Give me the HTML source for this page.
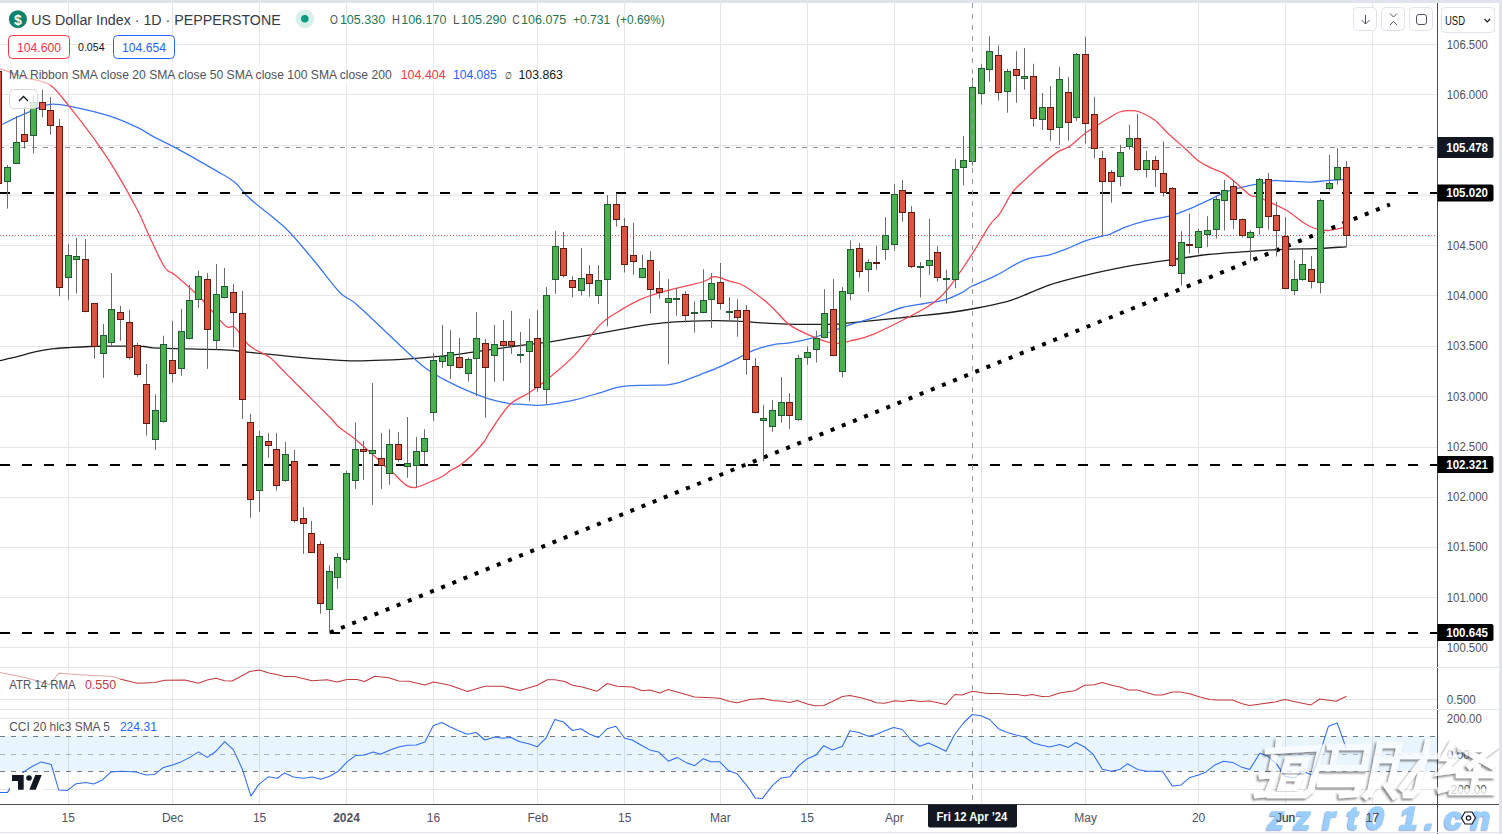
<!DOCTYPE html>
<html><head><meta charset="utf-8"><style>
html,body{margin:0;padding:0;background:#fff;width:1502px;height:834px;overflow:hidden}
svg{display:block}
text{font-family:"Liberation Sans", sans-serif}
</style></head><body>
<svg width="1502" height="834" viewBox="0 0 1502 834" shape-rendering="auto">
<rect x="0" y="0" width="1502" height="834" fill="#ffffff"/>

<line x1="68.5" y1="3" x2="68.5" y2="804" stroke="#e6e6e8" stroke-width="1"/>
<line x1="172.5" y1="3" x2="172.5" y2="804" stroke="#e6e6e8" stroke-width="1"/>
<line x1="259.5" y1="3" x2="259.5" y2="804" stroke="#e6e6e8" stroke-width="1"/>
<line x1="346.5" y1="3" x2="346.5" y2="804" stroke="#e6e6e8" stroke-width="1"/>
<line x1="433.5" y1="3" x2="433.5" y2="804" stroke="#e6e6e8" stroke-width="1"/>
<line x1="537.5" y1="3" x2="537.5" y2="804" stroke="#e6e6e8" stroke-width="1"/>
<line x1="624.5" y1="3" x2="624.5" y2="804" stroke="#e6e6e8" stroke-width="1"/>
<line x1="720.5" y1="3" x2="720.5" y2="804" stroke="#e6e6e8" stroke-width="1"/>
<line x1="807.5" y1="3" x2="807.5" y2="804" stroke="#e6e6e8" stroke-width="1"/>
<line x1="894.5" y1="3" x2="894.5" y2="804" stroke="#e6e6e8" stroke-width="1"/>
<line x1="981.5" y1="3" x2="981.5" y2="804" stroke="#e6e6e8" stroke-width="1"/>
<line x1="1085.5" y1="3" x2="1085.5" y2="804" stroke="#e6e6e8" stroke-width="1"/>
<line x1="1198.5" y1="3" x2="1198.5" y2="804" stroke="#e6e6e8" stroke-width="1"/>
<line x1="1285.5" y1="3" x2="1285.5" y2="804" stroke="#e6e6e8" stroke-width="1"/>
<line x1="1372.5" y1="3" x2="1372.5" y2="804" stroke="#e6e6e8" stroke-width="1"/>
<line x1="0" y1="44.5" x2="1437" y2="44.5" stroke="#e6e6e8" stroke-width="1"/>
<line x1="0" y1="94.5" x2="1437" y2="94.5" stroke="#e6e6e8" stroke-width="1"/>
<line x1="0" y1="145.5" x2="1437" y2="145.5" stroke="#e6e6e8" stroke-width="1"/>
<line x1="0" y1="195.5" x2="1437" y2="195.5" stroke="#e6e6e8" stroke-width="1"/>
<line x1="0" y1="245.5" x2="1437" y2="245.5" stroke="#e6e6e8" stroke-width="1"/>
<line x1="0" y1="295.5" x2="1437" y2="295.5" stroke="#e6e6e8" stroke-width="1"/>
<line x1="0" y1="346.5" x2="1437" y2="346.5" stroke="#e6e6e8" stroke-width="1"/>
<line x1="0" y1="396.5" x2="1437" y2="396.5" stroke="#e6e6e8" stroke-width="1"/>
<line x1="0" y1="447.5" x2="1437" y2="447.5" stroke="#e6e6e8" stroke-width="1"/>
<line x1="0" y1="497.5" x2="1437" y2="497.5" stroke="#e6e6e8" stroke-width="1"/>
<line x1="0" y1="547.5" x2="1437" y2="547.5" stroke="#e6e6e8" stroke-width="1"/>
<line x1="0" y1="597.5" x2="1437" y2="597.5" stroke="#e6e6e8" stroke-width="1"/>
<line x1="0" y1="647.5" x2="1437" y2="647.5" stroke="#e6e6e8" stroke-width="1"/>
<line x1="0" y1="699.5" x2="1437" y2="699.5" stroke="#e6e6e8" stroke-width="1"/>
<line x1="0" y1="718.5" x2="1437" y2="718.5" stroke="#e6e6e8" stroke-width="1"/>
<line x1="0" y1="789.5" x2="1437" y2="789.5" stroke="#e6e6e8" stroke-width="1"/>
<line x1="0" y1="667.5" x2="1499" y2="667.5" stroke="#e0e3eb" stroke-width="1"/>
<line x1="0" y1="709.5" x2="1499" y2="709.5" stroke="#e0e3eb" stroke-width="1"/>
<rect x="0" y="736" width="1437" height="35" fill="#2196f3" fill-opacity="0.1"/>
<line x1="0" y1="736.5" x2="1437" y2="736.5" stroke="#787b86" stroke-opacity="1" stroke-width="1" stroke-dasharray="5 6"/>
<line x1="0" y1="754.5" x2="1437" y2="754.5" stroke="#787b86" stroke-opacity="0.55" stroke-width="1" stroke-dasharray="5 6"/>
<line x1="0" y1="771.5" x2="1437" y2="771.5" stroke="#787b86" stroke-opacity="1" stroke-width="1" stroke-dasharray="5 6"/>
<line x1="0" y1="147.5" x2="1437" y2="147.5" stroke="#8a8d99" stroke-width="1" stroke-dasharray="5 6" stroke-dashoffset="1"/>
<line x1="0" y1="235.5" x2="1437" y2="235.5" stroke="#e0533f" stroke-width="1" stroke-dasharray="1 2"/>
<path d="M0.0,360.6 C3.0,359.9 12.0,357.9 18.0,356.4 C24.0,354.9 30.0,352.9 36.0,351.6 C42.0,350.3 48.0,349.3 54.0,348.6 C60.0,347.9 65.9,347.8 71.9,347.4 C77.9,347.0 83.9,346.7 89.9,346.5 C95.9,346.3 101.9,346.2 107.9,346.2 C113.9,346.1 119.9,346.1 125.9,346.2 C131.9,346.2 138.2,346.2 143.9,346.5 C149.6,346.8 146.5,347.6 160.0,348.2 C173.5,348.8 209.9,349.2 224.9,349.9 C239.9,350.6 237.4,351.1 249.9,352.4 C262.4,353.6 284.0,356.0 299.8,357.4 C315.6,358.8 332.3,360.1 344.8,360.6 C357.3,361.1 363.5,360.7 374.7,360.4 C385.9,360.1 399.7,359.4 412.2,358.6 C424.7,357.8 439.2,356.5 449.6,355.4 C460.0,354.3 462.0,353.6 474.6,351.9 C487.2,350.1 512.5,346.6 525.0,344.9 C537.5,343.2 539.5,343.5 549.9,341.9 C560.3,340.3 574.9,337.6 587.4,335.4 C599.9,333.2 614.4,330.5 624.8,328.7 C635.2,326.9 641.5,325.5 649.8,324.4 C658.1,323.3 664.4,322.5 674.8,321.9 C685.2,321.3 701.8,320.8 712.2,320.7 C722.6,320.6 728.9,320.8 737.2,321.2 C745.5,321.6 753.9,322.4 762.2,322.9 C770.5,323.4 778.8,323.9 787.1,324.2 C795.4,324.4 803.8,324.4 812.1,324.4 C820.4,324.4 830.9,324.4 837.1,324.2 C843.4,323.9 843.3,323.5 849.6,322.9 C855.9,322.3 864.5,321.5 875.0,320.4 C885.5,319.3 899.8,317.8 912.3,316.5 C924.8,315.2 938.8,314.0 950.0,312.5 C961.2,311.0 969.4,309.6 979.8,307.5 C990.2,305.4 1000.6,303.6 1012.3,299.8 C1024.0,296.0 1037.3,289.0 1049.8,284.8 C1062.3,280.6 1074.7,277.8 1087.2,274.8 C1099.7,271.8 1114.3,268.8 1124.7,266.8 C1135.1,264.8 1141.3,264.1 1149.6,262.8 C1157.9,261.6 1164.9,260.7 1174.6,259.3 C1184.3,257.9 1195.7,255.8 1207.6,254.5 C1219.5,253.2 1233.1,252.5 1245.9,251.6 C1258.7,250.7 1272.8,249.8 1284.3,249.3 C1295.8,248.8 1304.8,249.1 1315.0,248.7 C1325.2,248.3 1340.6,247.1 1345.7,246.8" fill="none" stroke="#1e1e1e" stroke-width="1.3" stroke-linejoin="round" stroke-linecap="round"/>
<path d="M0.0,125.4 C4.2,123.5 16.7,117.2 25.0,113.7 C33.3,110.2 41.6,105.5 49.9,104.4 C58.2,103.4 64.9,105.4 74.9,107.4 C84.9,109.4 99.5,112.9 109.9,116.2 C120.3,119.5 129.8,123.9 137.3,127.4 C144.8,130.9 148.6,134.1 154.8,137.4 C161.1,140.7 164.8,142.0 174.8,147.4 C184.8,152.8 204.7,164.1 214.7,169.9 C224.7,175.7 228.9,177.5 234.7,182.3 C240.5,187.1 241.4,191.1 249.7,198.6 C258.0,206.1 274.0,217.1 284.6,227.3 C295.2,237.5 304.3,249.1 313.5,260.0 C322.7,270.9 332.5,285.0 339.8,292.5 C347.1,300.0 347.2,296.2 357.2,304.9 C367.2,313.6 388.4,334.5 399.7,344.9 C410.9,355.3 416.4,361.2 424.7,367.4 C433.0,373.6 439.6,377.3 449.6,382.3 C459.6,387.3 474.6,393.8 484.6,397.3 C494.6,400.9 503.7,402.5 509.6,403.6 C515.5,404.7 515.4,403.8 520.0,404.1 C524.6,404.4 532.5,405.3 537.5,405.3 C542.5,405.3 543.7,405.2 549.9,404.3 C556.1,403.4 566.6,401.7 574.9,399.8 C583.2,397.9 592.4,395.0 599.9,392.8 C607.4,390.6 612.4,388.1 619.9,386.8 C627.4,385.6 636.9,385.6 644.8,385.3 C652.7,385.0 661.5,385.3 667.3,384.8 C673.1,384.3 674.4,384.0 679.8,382.3 C685.2,380.6 693.1,377.4 699.8,374.8 C706.4,372.2 713.1,369.8 719.7,366.9 C726.4,364.0 733.9,360.2 739.7,357.4 C745.5,354.6 748.9,352.1 754.7,349.9 C760.5,347.7 768.9,345.6 774.7,344.4 C780.5,343.2 783.0,344.1 789.6,342.9 C796.2,341.7 804.6,340.4 814.6,337.4 C824.6,334.4 839.5,328.2 849.6,324.9 C859.7,321.6 866.2,320.3 875.0,317.4 C883.8,314.5 894.1,309.8 902.4,307.5 C910.7,305.2 917.8,304.8 924.9,303.5 C932.0,302.2 938.6,301.7 944.9,299.8 C951.1,297.9 957.8,294.6 962.4,292.3 C967.0,290.0 966.5,288.9 972.3,286.0 C978.1,283.1 988.5,279.2 997.3,274.8 C1006.0,270.4 1016.0,263.1 1024.8,259.8 C1033.5,256.5 1042.7,256.7 1049.8,254.8 C1056.9,252.9 1061.4,250.9 1067.2,248.6 C1073.0,246.3 1078.9,243.2 1084.7,241.1 C1090.5,239.0 1098.0,237.2 1102.2,236.1 C1106.4,235.0 1106.0,235.8 1109.7,234.3 C1113.5,232.8 1118.9,229.5 1124.7,227.3 C1130.5,225.1 1137.2,223.0 1144.6,221.1 C1152.0,219.2 1161.9,218.0 1169.2,216.1 C1176.5,214.2 1182.0,212.0 1188.4,209.4 C1194.8,206.8 1201.2,203.6 1207.6,200.7 C1214.0,197.8 1220.3,194.1 1226.7,191.7 C1233.1,189.3 1240.1,187.7 1245.9,186.3 C1251.7,184.9 1256.8,184.4 1261.3,183.5 C1265.8,182.6 1269.0,181.0 1272.8,180.6 C1276.6,180.2 1277.9,180.8 1284.3,181.0 C1290.7,181.2 1304.2,182.2 1311.2,182.1 C1318.2,182.0 1321.2,181.0 1326.5,180.6 C1331.8,180.2 1340.1,179.8 1342.8,179.6" fill="none" stroke="#3a76f0" stroke-width="1.3" stroke-linejoin="round" stroke-linecap="round"/>
<path d="M0.0,68.7 C4.2,70.2 16.7,74.8 25.0,77.5 C33.3,80.2 42.5,80.0 50.0,85.0 C57.5,90.0 62.5,98.2 70.0,107.4 C77.5,116.6 87.4,129.5 94.9,139.9 C102.4,150.3 107.8,158.2 114.9,169.9 C122.0,181.6 131.5,198.6 137.3,209.8 C143.1,221.0 145.2,227.7 149.8,237.3 C154.4,246.9 160.6,261.2 164.8,267.5 C169.0,273.8 169.1,270.0 175.0,275.0 C180.9,280.0 191.7,289.1 200.0,297.5 C208.3,305.9 219.1,320.4 224.9,325.4 C230.7,330.4 230.7,323.9 234.9,327.4 C239.1,330.8 244.1,341.1 249.9,346.1 C255.7,351.1 264.1,353.0 269.9,357.4 C275.7,361.8 279.0,366.6 284.8,372.4 C290.6,378.2 297.3,384.8 304.8,392.3 C312.3,399.8 324.0,411.4 329.8,417.3 C335.6,423.2 335.7,424.3 339.8,427.8 C343.9,431.3 350.4,435.2 354.4,438.4 C358.4,441.6 360.4,443.6 364.0,446.8 C367.6,450.0 372.4,454.3 376.0,457.6 C379.6,460.9 382.6,463.8 385.6,466.5 C388.6,469.2 390.6,470.6 394.0,473.7 C397.4,476.8 402.4,482.8 406.0,485.1 C409.6,487.4 411.3,488.1 415.5,487.5 C419.7,486.9 426.7,483.3 431.1,481.5 C435.5,479.7 438.7,478.5 441.9,476.7 C445.1,474.9 447.3,472.6 450.3,470.7 C453.3,468.8 456.3,467.9 459.9,465.3 C463.5,462.7 467.9,459.1 471.9,455.2 C475.9,451.3 480.9,445.9 483.9,442.0 C486.9,438.1 485.7,438.0 490.0,431.8 C494.3,425.6 502.9,411.4 509.6,404.8 C516.3,398.2 523.3,396.9 530.0,392.3 C536.7,387.7 542.4,383.5 549.9,377.3 C557.4,371.1 566.6,363.6 574.9,354.9 C583.2,346.2 593.2,331.8 599.9,324.9 C606.6,318.0 607.8,318.1 614.9,313.7 C622.0,309.3 633.1,302.6 642.3,298.7 C651.4,294.8 659.8,292.8 669.8,290.0 C679.8,287.2 695.1,284.2 702.2,282.0 C709.3,279.8 709.3,277.8 712.2,277.0 C715.1,276.2 716.8,276.8 719.7,277.5 C722.6,278.2 725.5,279.8 729.7,281.2 C733.9,282.6 738.0,282.2 744.7,286.2 C751.4,290.1 762.2,298.4 769.7,304.9 C777.2,311.3 782.1,319.5 789.6,324.9 C797.1,330.3 807.1,334.3 814.6,337.4 C822.1,340.5 828.8,343.0 834.6,343.6 C840.4,344.2 842.9,342.8 849.6,341.1 C856.3,339.4 862.2,339.2 875.0,333.6 C887.8,328.0 914.6,314.4 926.2,307.5 C937.9,300.6 939.3,298.2 944.9,292.3 C950.5,286.4 954.9,279.4 959.9,272.3 C964.9,265.2 969.8,257.7 974.8,249.8 C979.8,241.9 985.6,230.8 989.8,224.8 C994.0,218.8 996.0,219.0 999.8,213.6 C1003.5,208.2 1008.1,198.0 1012.3,192.4 C1016.5,186.8 1020.2,184.3 1024.8,179.9 C1029.4,175.5 1034.4,170.8 1039.8,166.2 C1045.2,161.6 1052.2,155.7 1057.2,152.4 C1062.2,149.1 1065.1,149.3 1069.7,146.2 C1074.3,143.1 1079.7,137.4 1084.7,133.7 C1089.7,129.9 1095.5,126.4 1099.7,123.7 C1103.9,121.0 1106.4,119.5 1109.7,117.5 C1113.0,115.5 1116.4,113.1 1119.7,112.0 C1123.0,110.9 1126.4,110.7 1129.7,110.7 C1133.0,110.7 1135.6,110.5 1139.7,112.0 C1143.8,113.5 1149.7,116.2 1154.6,120.0 C1159.5,123.8 1164.2,129.8 1169.2,134.5 C1174.2,139.2 1179.7,143.7 1184.5,148.0 C1189.3,152.3 1193.5,157.1 1198.0,160.4 C1202.5,163.8 1207.2,166.0 1211.4,168.1 C1215.6,170.2 1219.1,170.7 1222.9,172.9 C1226.7,175.1 1229.9,177.8 1234.4,181.5 C1238.9,185.2 1246.0,192.4 1249.8,195.0 C1253.6,197.6 1253.6,195.5 1257.4,196.9 C1261.2,198.3 1267.7,201.2 1272.8,203.6 C1277.9,206.0 1283.0,208.1 1288.1,211.3 C1293.2,214.5 1299.0,219.9 1303.5,222.8 C1308.0,225.7 1311.2,227.2 1315.0,228.5 C1318.8,229.8 1323.3,230.3 1326.5,230.5 C1329.7,230.7 1331.5,230.0 1334.2,229.5 C1336.9,229.0 1341.4,227.9 1342.8,227.6" fill="none" stroke="#f24a56" stroke-width="1.3" stroke-linejoin="round" stroke-linecap="round"/>
<rect x="0" y="63" width="566" height="22" fill="#ffffff" fill-opacity="0.55"/>
<rect x="0" y="192" width="0" height="0"/>
<line x1="0" y1="193" x2="1437" y2="193" stroke="#000" stroke-width="2" stroke-dasharray="10 12"/>
<rect x="0" y="464" width="0" height="0"/>
<line x1="0" y1="465" x2="1437" y2="465" stroke="#000" stroke-width="2" stroke-dasharray="10 12"/>
<rect x="0" y="632" width="0" height="0"/>
<line x1="0" y1="633" x2="1437" y2="633" stroke="#000" stroke-width="2" stroke-dasharray="10 12"/>
<line x1="330" y1="632.5" x2="1390" y2="204.5" stroke="#000" stroke-width="4" stroke-dasharray="4 8"/>
<line x1="-1.5" y1="71.0" x2="-1.5" y2="184.0" stroke="#6b6b6b" stroke-width="1"/>
<rect x="-4.5" y="71.5" width="6" height="112" fill="#d95541" stroke="#5e1a10" stroke-width="1"/>
<line x1="7.5" y1="165.0" x2="7.5" y2="208.6" stroke="#6b6b6b" stroke-width="1"/>
<rect x="4.5" y="167.5" width="6" height="14" fill="#4caf50" stroke="#1f5a32" stroke-width="1"/>
<line x1="16.5" y1="116.0" x2="16.5" y2="163.5" stroke="#6b6b6b" stroke-width="1"/>
<rect x="13.5" y="142.5" width="6" height="21" fill="#4caf50" stroke="#1f5a32" stroke-width="1"/>
<line x1="24.5" y1="106.0" x2="24.5" y2="148.6" stroke="#6b6b6b" stroke-width="1"/>
<rect x="21.5" y="134.5" width="6" height="7" fill="#d95541" stroke="#5e1a10" stroke-width="1"/>
<line x1="33.5" y1="95.0" x2="33.5" y2="153.5" stroke="#6b6b6b" stroke-width="1"/>
<rect x="30.5" y="102.5" width="6" height="33" fill="#4caf50" stroke="#1f5a32" stroke-width="1"/>
<line x1="42.5" y1="89.7" x2="42.5" y2="117.5" stroke="#6b6b6b" stroke-width="1"/>
<rect x="39.5" y="102.5" width="6" height="7" fill="#d95541" stroke="#5e1a10" stroke-width="1"/>
<line x1="50.5" y1="97.0" x2="50.5" y2="134.8" stroke="#6b6b6b" stroke-width="1"/>
<rect x="47.5" y="110.5" width="6" height="15" fill="#d95541" stroke="#5e1a10" stroke-width="1"/>
<line x1="59.5" y1="119.0" x2="59.5" y2="296.3" stroke="#6b6b6b" stroke-width="1"/>
<rect x="56.5" y="126.5" width="6" height="161" fill="#d95541" stroke="#5e1a10" stroke-width="1"/>
<line x1="68.5" y1="244.0" x2="68.5" y2="299.5" stroke="#6b6b6b" stroke-width="1"/>
<rect x="65.5" y="255.5" width="6" height="22" fill="#4caf50" stroke="#1f5a32" stroke-width="1"/>
<line x1="76.5" y1="238.0" x2="76.5" y2="293.5" stroke="#6b6b6b" stroke-width="1"/>
<rect x="73.5" y="256.5" width="6" height="3" fill="#4caf50" stroke="#1f5a32" stroke-width="1"/>
<line x1="85.5" y1="239.0" x2="85.5" y2="312.3" stroke="#6b6b6b" stroke-width="1"/>
<rect x="82.5" y="259.5" width="6" height="52" fill="#d95541" stroke="#5e1a10" stroke-width="1"/>
<line x1="94.5" y1="303.3" x2="94.5" y2="358.8" stroke="#6b6b6b" stroke-width="1"/>
<rect x="91.5" y="303.5" width="6" height="43" fill="#d95541" stroke="#5e1a10" stroke-width="1"/>
<line x1="103.5" y1="323.9" x2="103.5" y2="377.8" stroke="#6b6b6b" stroke-width="1"/>
<rect x="100.5" y="335.5" width="6" height="18" fill="#4caf50" stroke="#1f5a32" stroke-width="1"/>
<line x1="111.5" y1="273.0" x2="111.5" y2="345.8" stroke="#6b6b6b" stroke-width="1"/>
<rect x="108.5" y="309.5" width="6" height="33" fill="#4caf50" stroke="#1f5a32" stroke-width="1"/>
<line x1="120.5" y1="305.9" x2="120.5" y2="340.8" stroke="#6b6b6b" stroke-width="1"/>
<rect x="117.5" y="312.5" width="6" height="7" fill="#d95541" stroke="#5e1a10" stroke-width="1"/>
<line x1="129.5" y1="309.9" x2="129.5" y2="359.4" stroke="#6b6b6b" stroke-width="1"/>
<rect x="126.5" y="322.5" width="6" height="35" fill="#d95541" stroke="#5e1a10" stroke-width="1"/>
<line x1="137.5" y1="342.8" x2="137.5" y2="376.8" stroke="#6b6b6b" stroke-width="1"/>
<rect x="134.5" y="345.5" width="6" height="29" fill="#d95541" stroke="#5e1a10" stroke-width="1"/>
<line x1="146.5" y1="364.0" x2="146.5" y2="435.5" stroke="#6b6b6b" stroke-width="1"/>
<rect x="143.5" y="384.5" width="6" height="39" fill="#d95541" stroke="#5e1a10" stroke-width="1"/>
<line x1="155.5" y1="394.4" x2="155.5" y2="449.9" stroke="#6b6b6b" stroke-width="1"/>
<rect x="152.5" y="410.5" width="6" height="29" fill="#4caf50" stroke="#1f5a32" stroke-width="1"/>
<line x1="163.5" y1="335.8" x2="163.5" y2="422.5" stroke="#6b6b6b" stroke-width="1"/>
<rect x="160.5" y="344.5" width="6" height="77" fill="#4caf50" stroke="#1f5a32" stroke-width="1"/>
<line x1="172.5" y1="320.9" x2="172.5" y2="382.6" stroke="#6b6b6b" stroke-width="1"/>
<rect x="169.5" y="360.5" width="6" height="13" fill="#d95541" stroke="#5e1a10" stroke-width="1"/>
<line x1="181.5" y1="308.9" x2="181.5" y2="375.8" stroke="#6b6b6b" stroke-width="1"/>
<rect x="178.5" y="331.5" width="6" height="37" fill="#4caf50" stroke="#1f5a32" stroke-width="1"/>
<line x1="189.5" y1="284.9" x2="189.5" y2="339.4" stroke="#6b6b6b" stroke-width="1"/>
<rect x="186.5" y="300.5" width="6" height="38" fill="#4caf50" stroke="#1f5a32" stroke-width="1"/>
<line x1="198.5" y1="270.9" x2="198.5" y2="307.9" stroke="#6b6b6b" stroke-width="1"/>
<rect x="195.5" y="276.5" width="6" height="23" fill="#4caf50" stroke="#1f5a32" stroke-width="1"/>
<line x1="207.5" y1="272.9" x2="207.5" y2="368.8" stroke="#6b6b6b" stroke-width="1"/>
<rect x="204.5" y="279.5" width="6" height="50" fill="#d95541" stroke="#5e1a10" stroke-width="1"/>
<line x1="216.5" y1="264.0" x2="216.5" y2="349.4" stroke="#6b6b6b" stroke-width="1"/>
<rect x="213.5" y="294.5" width="6" height="46" fill="#4caf50" stroke="#1f5a32" stroke-width="1"/>
<line x1="224.5" y1="268.0" x2="224.5" y2="298.3" stroke="#6b6b6b" stroke-width="1"/>
<rect x="221.5" y="286.5" width="6" height="11" fill="#4caf50" stroke="#1f5a32" stroke-width="1"/>
<line x1="233.5" y1="283.9" x2="233.5" y2="347.4" stroke="#6b6b6b" stroke-width="1"/>
<rect x="230.5" y="292.5" width="6" height="20" fill="#d95541" stroke="#5e1a10" stroke-width="1"/>
<line x1="242.5" y1="290.9" x2="242.5" y2="418.9" stroke="#6b6b6b" stroke-width="1"/>
<rect x="239.5" y="313.5" width="6" height="86" fill="#d95541" stroke="#5e1a10" stroke-width="1"/>
<line x1="250.5" y1="413.9" x2="250.5" y2="517.9" stroke="#6b6b6b" stroke-width="1"/>
<rect x="247.5" y="422.5" width="6" height="77" fill="#d95541" stroke="#5e1a10" stroke-width="1"/>
<line x1="259.5" y1="430.9" x2="259.5" y2="511.7" stroke="#6b6b6b" stroke-width="1"/>
<rect x="256.5" y="436.5" width="6" height="54" fill="#4caf50" stroke="#1f5a32" stroke-width="1"/>
<line x1="268.5" y1="432.9" x2="268.5" y2="457.9" stroke="#6b6b6b" stroke-width="1"/>
<rect x="265.5" y="441.5" width="6" height="4" fill="#d95541" stroke="#5e1a10" stroke-width="1"/>
<line x1="276.5" y1="432.9" x2="276.5" y2="490.8" stroke="#6b6b6b" stroke-width="1"/>
<rect x="273.5" y="449.5" width="6" height="36" fill="#d95541" stroke="#5e1a10" stroke-width="1"/>
<line x1="285.5" y1="441.9" x2="285.5" y2="481.8" stroke="#6b6b6b" stroke-width="1"/>
<rect x="282.5" y="454.5" width="6" height="26" fill="#4caf50" stroke="#1f5a32" stroke-width="1"/>
<line x1="294.5" y1="449.9" x2="294.5" y2="522.8" stroke="#6b6b6b" stroke-width="1"/>
<rect x="291.5" y="461.5" width="6" height="59" fill="#d95541" stroke="#5e1a10" stroke-width="1"/>
<line x1="303.5" y1="507.1" x2="303.5" y2="553.8" stroke="#6b6b6b" stroke-width="1"/>
<rect x="300.5" y="518.5" width="6" height="5" fill="#d95541" stroke="#5e1a10" stroke-width="1"/>
<line x1="311.5" y1="520.9" x2="311.5" y2="553.0" stroke="#6b6b6b" stroke-width="1"/>
<rect x="308.5" y="533.5" width="6" height="19" fill="#d95541" stroke="#5e1a10" stroke-width="1"/>
<line x1="320.5" y1="541.3" x2="320.5" y2="613.7" stroke="#6b6b6b" stroke-width="1"/>
<rect x="317.5" y="544.5" width="6" height="59" fill="#d95541" stroke="#5e1a10" stroke-width="1"/>
<line x1="329.5" y1="565.2" x2="329.5" y2="633.0" stroke="#6b6b6b" stroke-width="1"/>
<rect x="326.5" y="571.5" width="6" height="38" fill="#4caf50" stroke="#1f5a32" stroke-width="1"/>
<line x1="337.5" y1="553.0" x2="337.5" y2="588.6" stroke="#6b6b6b" stroke-width="1"/>
<rect x="334.5" y="557.5" width="6" height="20" fill="#4caf50" stroke="#1f5a32" stroke-width="1"/>
<line x1="346.5" y1="470.8" x2="346.5" y2="562.8" stroke="#6b6b6b" stroke-width="1"/>
<rect x="343.5" y="473.5" width="6" height="86" fill="#4caf50" stroke="#1f5a32" stroke-width="1"/>
<line x1="355.5" y1="422.3" x2="355.5" y2="488.8" stroke="#6b6b6b" stroke-width="1"/>
<rect x="352.5" y="449.5" width="6" height="31" fill="#4caf50" stroke="#1f5a32" stroke-width="1"/>
<line x1="363.5" y1="440.9" x2="363.5" y2="479.8" stroke="#6b6b6b" stroke-width="1"/>
<rect x="360.5" y="449.5" width="6" height="2" fill="#d95541" stroke="#5e1a10" stroke-width="1"/>
<line x1="372.5" y1="383.0" x2="372.5" y2="504.8" stroke="#6b6b6b" stroke-width="1"/>
<rect x="369.5" y="450.5" width="6" height="3" fill="#4caf50" stroke="#1f5a32" stroke-width="1"/>
<line x1="381.5" y1="432.9" x2="381.5" y2="488.8" stroke="#6b6b6b" stroke-width="1"/>
<rect x="378.5" y="458.5" width="6" height="7" fill="#d95541" stroke="#5e1a10" stroke-width="1"/>
<line x1="389.5" y1="429.2" x2="389.5" y2="484.7" stroke="#6b6b6b" stroke-width="1"/>
<rect x="386.5" y="444.5" width="6" height="29" fill="#4caf50" stroke="#1f5a32" stroke-width="1"/>
<line x1="398.5" y1="432.1" x2="398.5" y2="461.8" stroke="#6b6b6b" stroke-width="1"/>
<rect x="395.5" y="444.5" width="6" height="15" fill="#d95541" stroke="#5e1a10" stroke-width="1"/>
<line x1="407.5" y1="417.0" x2="407.5" y2="477.8" stroke="#6b6b6b" stroke-width="1"/>
<rect x="404.5" y="463.5" width="6" height="3" fill="#4caf50" stroke="#1f5a32" stroke-width="1"/>
<line x1="416.5" y1="437.0" x2="416.5" y2="487.2" stroke="#6b6b6b" stroke-width="1"/>
<rect x="413.5" y="451.5" width="6" height="14" fill="#4caf50" stroke="#1f5a32" stroke-width="1"/>
<line x1="424.5" y1="429.2" x2="424.5" y2="464.5" stroke="#6b6b6b" stroke-width="1"/>
<rect x="421.5" y="438.5" width="6" height="13" fill="#4caf50" stroke="#1f5a32" stroke-width="1"/>
<line x1="433.5" y1="352.9" x2="433.5" y2="420.8" stroke="#6b6b6b" stroke-width="1"/>
<rect x="430.5" y="360.5" width="6" height="52" fill="#4caf50" stroke="#1f5a32" stroke-width="1"/>
<line x1="442.5" y1="325.0" x2="442.5" y2="367.9" stroke="#6b6b6b" stroke-width="1"/>
<rect x="439.5" y="356.5" width="6" height="5" fill="#4caf50" stroke="#1f5a32" stroke-width="1"/>
<line x1="450.5" y1="330.0" x2="450.5" y2="378.9" stroke="#6b6b6b" stroke-width="1"/>
<rect x="447.5" y="352.5" width="6" height="13" fill="#4caf50" stroke="#1f5a32" stroke-width="1"/>
<line x1="459.5" y1="337.9" x2="459.5" y2="368.5" stroke="#6b6b6b" stroke-width="1"/>
<rect x="456.5" y="357.5" width="6" height="10" fill="#d95541" stroke="#5e1a10" stroke-width="1"/>
<line x1="468.5" y1="357.3" x2="468.5" y2="381.5" stroke="#6b6b6b" stroke-width="1"/>
<rect x="465.5" y="359.5" width="6" height="14" fill="#4caf50" stroke="#1f5a32" stroke-width="1"/>
<line x1="476.5" y1="312.0" x2="476.5" y2="395.9" stroke="#6b6b6b" stroke-width="1"/>
<rect x="473.5" y="338.5" width="6" height="20" fill="#4caf50" stroke="#1f5a32" stroke-width="1"/>
<line x1="485.5" y1="338.9" x2="485.5" y2="417.8" stroke="#6b6b6b" stroke-width="1"/>
<rect x="482.5" y="343.5" width="6" height="24" fill="#d95541" stroke="#5e1a10" stroke-width="1"/>
<line x1="494.5" y1="325.0" x2="494.5" y2="381.9" stroke="#6b6b6b" stroke-width="1"/>
<rect x="491.5" y="344.5" width="6" height="11" fill="#4caf50" stroke="#1f5a32" stroke-width="1"/>
<line x1="503.5" y1="320.0" x2="503.5" y2="380.9" stroke="#6b6b6b" stroke-width="1"/>
<rect x="500.5" y="341.5" width="6" height="4" fill="#d95541" stroke="#5e1a10" stroke-width="1"/>
<line x1="511.5" y1="311.0" x2="511.5" y2="353.9" stroke="#6b6b6b" stroke-width="1"/>
<rect x="508.5" y="341.5" width="6" height="4" fill="#d95541" stroke="#5e1a10" stroke-width="1"/>
<line x1="520.5" y1="332.0" x2="520.5" y2="362.9" stroke="#6b6b6b" stroke-width="1"/>
<rect x="517.5" y="354.5" width="6" height="1" fill="#4caf50" stroke="#1f5a32" stroke-width="1"/>
<line x1="529.5" y1="319.0" x2="529.5" y2="400.9" stroke="#6b6b6b" stroke-width="1"/>
<rect x="526.5" y="341.5" width="6" height="10" fill="#4caf50" stroke="#1f5a32" stroke-width="1"/>
<line x1="537.5" y1="310.0" x2="537.5" y2="391.9" stroke="#6b6b6b" stroke-width="1"/>
<rect x="534.5" y="338.5" width="6" height="49" fill="#d95541" stroke="#5e1a10" stroke-width="1"/>
<line x1="546.5" y1="287.2" x2="546.5" y2="404.3" stroke="#6b6b6b" stroke-width="1"/>
<rect x="543.5" y="295.5" width="6" height="94" fill="#4caf50" stroke="#1f5a32" stroke-width="1"/>
<line x1="555.5" y1="230.8" x2="555.5" y2="293.8" stroke="#6b6b6b" stroke-width="1"/>
<rect x="552.5" y="246.5" width="6" height="33" fill="#4caf50" stroke="#1f5a32" stroke-width="1"/>
<line x1="563.5" y1="232.0" x2="563.5" y2="277.5" stroke="#6b6b6b" stroke-width="1"/>
<rect x="560.5" y="248.5" width="6" height="27" fill="#d95541" stroke="#5e1a10" stroke-width="1"/>
<line x1="572.5" y1="276.2" x2="572.5" y2="297.5" stroke="#6b6b6b" stroke-width="1"/>
<rect x="569.5" y="280.5" width="6" height="7" fill="#d95541" stroke="#5e1a10" stroke-width="1"/>
<line x1="581.5" y1="248.0" x2="581.5" y2="295.5" stroke="#6b6b6b" stroke-width="1"/>
<rect x="578.5" y="278.5" width="6" height="12" fill="#4caf50" stroke="#1f5a32" stroke-width="1"/>
<line x1="589.5" y1="265.0" x2="589.5" y2="296.7" stroke="#6b6b6b" stroke-width="1"/>
<rect x="586.5" y="274.5" width="6" height="9" fill="#d95541" stroke="#5e1a10" stroke-width="1"/>
<line x1="598.5" y1="265.0" x2="598.5" y2="303.7" stroke="#6b6b6b" stroke-width="1"/>
<rect x="595.5" y="280.5" width="6" height="15" fill="#4caf50" stroke="#1f5a32" stroke-width="1"/>
<line x1="607.5" y1="195.0" x2="607.5" y2="326.4" stroke="#6b6b6b" stroke-width="1"/>
<rect x="604.5" y="204.5" width="6" height="75" fill="#4caf50" stroke="#1f5a32" stroke-width="1"/>
<line x1="616.5" y1="193.3" x2="616.5" y2="226.7" stroke="#6b6b6b" stroke-width="1"/>
<rect x="613.5" y="204.5" width="6" height="15" fill="#d95541" stroke="#5e1a10" stroke-width="1"/>
<line x1="624.5" y1="218.0" x2="624.5" y2="272.5" stroke="#6b6b6b" stroke-width="1"/>
<rect x="621.5" y="226.5" width="6" height="38" fill="#d95541" stroke="#5e1a10" stroke-width="1"/>
<line x1="633.5" y1="223.0" x2="633.5" y2="274.7" stroke="#6b6b6b" stroke-width="1"/>
<rect x="630.5" y="255.5" width="6" height="6" fill="#d95541" stroke="#5e1a10" stroke-width="1"/>
<line x1="642.5" y1="255.0" x2="642.5" y2="278.3" stroke="#6b6b6b" stroke-width="1"/>
<rect x="639.5" y="268.5" width="6" height="9" fill="#4caf50" stroke="#1f5a32" stroke-width="1"/>
<line x1="650.5" y1="251.3" x2="650.5" y2="313.3" stroke="#6b6b6b" stroke-width="1"/>
<rect x="647.5" y="260.5" width="6" height="29" fill="#d95541" stroke="#5e1a10" stroke-width="1"/>
<line x1="659.5" y1="271.2" x2="659.5" y2="298.7" stroke="#6b6b6b" stroke-width="1"/>
<rect x="656.5" y="288.5" width="6" height="4" fill="#d95541" stroke="#5e1a10" stroke-width="1"/>
<line x1="668.5" y1="279.2" x2="668.5" y2="364.4" stroke="#6b6b6b" stroke-width="1"/>
<rect x="665.5" y="298.5" width="6" height="4" fill="#4caf50" stroke="#1f5a32" stroke-width="1"/>
<line x1="676.5" y1="287.5" x2="676.5" y2="315.7" stroke="#6b6b6b" stroke-width="1"/>
<rect x="673.5" y="298.5" width="6" height="1" fill="#4caf50" stroke="#1f5a32" stroke-width="1"/>
<line x1="685.5" y1="291.3" x2="685.5" y2="322.5" stroke="#6b6b6b" stroke-width="1"/>
<rect x="682.5" y="294.5" width="6" height="21" fill="#d95541" stroke="#5e1a10" stroke-width="1"/>
<line x1="694.5" y1="301.2" x2="694.5" y2="332.5" stroke="#6b6b6b" stroke-width="1"/>
<rect x="691.5" y="312.5" width="6" height="1" fill="#4caf50" stroke="#1f5a32" stroke-width="1"/>
<line x1="703.5" y1="269.2" x2="703.5" y2="313.3" stroke="#6b6b6b" stroke-width="1"/>
<rect x="700.5" y="300.5" width="6" height="12" fill="#4caf50" stroke="#1f5a32" stroke-width="1"/>
<line x1="711.5" y1="273.0" x2="711.5" y2="328.0" stroke="#6b6b6b" stroke-width="1"/>
<rect x="708.5" y="283.5" width="6" height="16" fill="#4caf50" stroke="#1f5a32" stroke-width="1"/>
<line x1="720.5" y1="263.0" x2="720.5" y2="309.7" stroke="#6b6b6b" stroke-width="1"/>
<rect x="717.5" y="282.5" width="6" height="21" fill="#d95541" stroke="#5e1a10" stroke-width="1"/>
<line x1="729.5" y1="297.1" x2="729.5" y2="320.8" stroke="#6b6b6b" stroke-width="1"/>
<rect x="726.5" y="311.5" width="6" height="1" fill="#4caf50" stroke="#1f5a32" stroke-width="1"/>
<line x1="737.5" y1="299.2" x2="737.5" y2="336.7" stroke="#6b6b6b" stroke-width="1"/>
<rect x="734.5" y="310.5" width="6" height="7" fill="#d95541" stroke="#5e1a10" stroke-width="1"/>
<line x1="746.5" y1="305.2" x2="746.5" y2="374.7" stroke="#6b6b6b" stroke-width="1"/>
<rect x="743.5" y="310.5" width="6" height="49" fill="#d95541" stroke="#5e1a10" stroke-width="1"/>
<line x1="755.5" y1="358.0" x2="755.5" y2="413.3" stroke="#6b6b6b" stroke-width="1"/>
<rect x="752.5" y="366.5" width="6" height="46" fill="#d95541" stroke="#5e1a10" stroke-width="1"/>
<line x1="763.5" y1="404.9" x2="763.5" y2="461.5" stroke="#6b6b6b" stroke-width="1"/>
<rect x="760.5" y="418.5" width="6" height="2" fill="#4caf50" stroke="#1f5a32" stroke-width="1"/>
<line x1="772.5" y1="400.0" x2="772.5" y2="431.7" stroke="#6b6b6b" stroke-width="1"/>
<rect x="769.5" y="410.5" width="6" height="16" fill="#4caf50" stroke="#1f5a32" stroke-width="1"/>
<line x1="781.5" y1="377.0" x2="781.5" y2="422.8" stroke="#6b6b6b" stroke-width="1"/>
<rect x="778.5" y="402.5" width="6" height="13" fill="#4caf50" stroke="#1f5a32" stroke-width="1"/>
<line x1="789.5" y1="393.0" x2="789.5" y2="428.9" stroke="#6b6b6b" stroke-width="1"/>
<rect x="786.5" y="402.5" width="6" height="13" fill="#d95541" stroke="#5e1a10" stroke-width="1"/>
<line x1="798.5" y1="355.0" x2="798.5" y2="420.8" stroke="#6b6b6b" stroke-width="1"/>
<rect x="795.5" y="358.5" width="6" height="61" fill="#4caf50" stroke="#1f5a32" stroke-width="1"/>
<line x1="807.5" y1="346.3" x2="807.5" y2="364.7" stroke="#6b6b6b" stroke-width="1"/>
<rect x="804.5" y="352.5" width="6" height="5" fill="#4caf50" stroke="#1f5a32" stroke-width="1"/>
<line x1="816.5" y1="330.8" x2="816.5" y2="362.5" stroke="#6b6b6b" stroke-width="1"/>
<rect x="813.5" y="338.5" width="6" height="11" fill="#4caf50" stroke="#1f5a32" stroke-width="1"/>
<line x1="824.5" y1="289.2" x2="824.5" y2="338.3" stroke="#6b6b6b" stroke-width="1"/>
<rect x="821.5" y="313.5" width="6" height="24" fill="#4caf50" stroke="#1f5a32" stroke-width="1"/>
<line x1="833.5" y1="279.1" x2="833.5" y2="356.3" stroke="#6b6b6b" stroke-width="1"/>
<rect x="830.5" y="309.5" width="6" height="46" fill="#d95541" stroke="#5e1a10" stroke-width="1"/>
<line x1="842.5" y1="287.2" x2="842.5" y2="377.5" stroke="#6b6b6b" stroke-width="1"/>
<rect x="839.5" y="291.5" width="6" height="80" fill="#4caf50" stroke="#1f5a32" stroke-width="1"/>
<line x1="850.5" y1="240.4" x2="850.5" y2="300.3" stroke="#6b6b6b" stroke-width="1"/>
<rect x="847.5" y="249.5" width="6" height="44" fill="#4caf50" stroke="#1f5a32" stroke-width="1"/>
<line x1="859.5" y1="243.0" x2="859.5" y2="277.4" stroke="#6b6b6b" stroke-width="1"/>
<rect x="856.5" y="248.5" width="6" height="23" fill="#d95541" stroke="#5e1a10" stroke-width="1"/>
<line x1="868.5" y1="259.1" x2="868.5" y2="291.7" stroke="#6b6b6b" stroke-width="1"/>
<rect x="865.5" y="262.5" width="6" height="7" fill="#4caf50" stroke="#1f5a32" stroke-width="1"/>
<line x1="876.5" y1="245.9" x2="876.5" y2="269.9" stroke="#6b6b6b" stroke-width="1"/>
<rect x="873.5" y="262.5" width="6" height="1" fill="#d95541" stroke="#5e1a10" stroke-width="1"/>
<line x1="885.5" y1="217.0" x2="885.5" y2="259.8" stroke="#6b6b6b" stroke-width="1"/>
<rect x="882.5" y="235.5" width="6" height="14" fill="#4caf50" stroke="#1f5a32" stroke-width="1"/>
<line x1="894.5" y1="184.3" x2="894.5" y2="250.5" stroke="#6b6b6b" stroke-width="1"/>
<rect x="891.5" y="194.5" width="6" height="50" fill="#4caf50" stroke="#1f5a32" stroke-width="1"/>
<line x1="902.5" y1="180.0" x2="902.5" y2="221.7" stroke="#6b6b6b" stroke-width="1"/>
<rect x="899.5" y="190.5" width="6" height="22" fill="#d95541" stroke="#5e1a10" stroke-width="1"/>
<line x1="911.5" y1="206.0" x2="911.5" y2="268.2" stroke="#6b6b6b" stroke-width="1"/>
<rect x="908.5" y="212.5" width="6" height="54" fill="#d95541" stroke="#5e1a10" stroke-width="1"/>
<line x1="920.5" y1="262.0" x2="920.5" y2="297.5" stroke="#6b6b6b" stroke-width="1"/>
<rect x="917.5" y="266.5" width="6" height="1" fill="#4caf50" stroke="#1f5a32" stroke-width="1"/>
<line x1="929.5" y1="219.0" x2="929.5" y2="274.9" stroke="#6b6b6b" stroke-width="1"/>
<rect x="926.5" y="260.5" width="6" height="5" fill="#4caf50" stroke="#1f5a32" stroke-width="1"/>
<line x1="937.5" y1="246.3" x2="937.5" y2="281.6" stroke="#6b6b6b" stroke-width="1"/>
<rect x="934.5" y="252.5" width="6" height="25" fill="#d95541" stroke="#5e1a10" stroke-width="1"/>
<line x1="946.5" y1="269.8" x2="946.5" y2="303.4" stroke="#6b6b6b" stroke-width="1"/>
<rect x="943.5" y="278.5" width="6" height="1" fill="#4caf50" stroke="#1f5a32" stroke-width="1"/>
<line x1="955.5" y1="159.1" x2="955.5" y2="288.3" stroke="#6b6b6b" stroke-width="1"/>
<rect x="952.5" y="169.5" width="6" height="110" fill="#4caf50" stroke="#1f5a32" stroke-width="1"/>
<line x1="963.5" y1="136.0" x2="963.5" y2="185.4" stroke="#6b6b6b" stroke-width="1"/>
<rect x="960.5" y="160.5" width="6" height="7" fill="#4caf50" stroke="#1f5a32" stroke-width="1"/>
<line x1="972.5" y1="77.6" x2="972.5" y2="165.7" stroke="#6b6b6b" stroke-width="1"/>
<rect x="969.5" y="87.5" width="6" height="74" fill="#4caf50" stroke="#1f5a32" stroke-width="1"/>
<line x1="981.5" y1="64.2" x2="981.5" y2="104.6" stroke="#6b6b6b" stroke-width="1"/>
<rect x="978.5" y="68.5" width="6" height="25" fill="#4caf50" stroke="#1f5a32" stroke-width="1"/>
<line x1="989.5" y1="36.3" x2="989.5" y2="81.8" stroke="#6b6b6b" stroke-width="1"/>
<rect x="986.5" y="51.5" width="6" height="18" fill="#4caf50" stroke="#1f5a32" stroke-width="1"/>
<line x1="998.5" y1="45.3" x2="998.5" y2="100.5" stroke="#6b6b6b" stroke-width="1"/>
<rect x="995.5" y="55.5" width="6" height="37" fill="#d95541" stroke="#5e1a10" stroke-width="1"/>
<line x1="1007.5" y1="68.7" x2="1007.5" y2="112.7" stroke="#6b6b6b" stroke-width="1"/>
<rect x="1004.5" y="71.5" width="6" height="20" fill="#4caf50" stroke="#1f5a32" stroke-width="1"/>
<line x1="1016.5" y1="51.2" x2="1016.5" y2="102.8" stroke="#6b6b6b" stroke-width="1"/>
<rect x="1013.5" y="69.5" width="6" height="6" fill="#d95541" stroke="#5e1a10" stroke-width="1"/>
<line x1="1024.5" y1="48.0" x2="1024.5" y2="89.7" stroke="#6b6b6b" stroke-width="1"/>
<rect x="1021.5" y="76.5" width="6" height="2" fill="#4caf50" stroke="#1f5a32" stroke-width="1"/>
<line x1="1033.5" y1="63.8" x2="1033.5" y2="126.7" stroke="#6b6b6b" stroke-width="1"/>
<rect x="1030.5" y="76.5" width="6" height="42" fill="#d95541" stroke="#5e1a10" stroke-width="1"/>
<line x1="1042.5" y1="92.9" x2="1042.5" y2="129.8" stroke="#6b6b6b" stroke-width="1"/>
<rect x="1039.5" y="107.5" width="6" height="12" fill="#4caf50" stroke="#1f5a32" stroke-width="1"/>
<line x1="1050.5" y1="86.1" x2="1050.5" y2="140.6" stroke="#6b6b6b" stroke-width="1"/>
<rect x="1047.5" y="107.5" width="6" height="22" fill="#d95541" stroke="#5e1a10" stroke-width="1"/>
<line x1="1059.5" y1="66.9" x2="1059.5" y2="145.1" stroke="#6b6b6b" stroke-width="1"/>
<rect x="1056.5" y="79.5" width="6" height="48" fill="#4caf50" stroke="#1f5a32" stroke-width="1"/>
<line x1="1068.5" y1="77.1" x2="1068.5" y2="140.6" stroke="#6b6b6b" stroke-width="1"/>
<rect x="1065.5" y="92.5" width="6" height="30" fill="#d95541" stroke="#5e1a10" stroke-width="1"/>
<line x1="1076.5" y1="53.0" x2="1076.5" y2="120.8" stroke="#6b6b6b" stroke-width="1"/>
<rect x="1073.5" y="54.5" width="6" height="63" fill="#4caf50" stroke="#1f5a32" stroke-width="1"/>
<line x1="1085.5" y1="36.8" x2="1085.5" y2="143.6" stroke="#6b6b6b" stroke-width="1"/>
<rect x="1082.5" y="54.5" width="6" height="69" fill="#d95541" stroke="#5e1a10" stroke-width="1"/>
<line x1="1094.5" y1="96.9" x2="1094.5" y2="158.5" stroke="#6b6b6b" stroke-width="1"/>
<rect x="1091.5" y="114.5" width="6" height="34" fill="#d95541" stroke="#5e1a10" stroke-width="1"/>
<line x1="1102.5" y1="150.8" x2="1102.5" y2="236.0" stroke="#6b6b6b" stroke-width="1"/>
<rect x="1099.5" y="158.5" width="6" height="23" fill="#d95541" stroke="#5e1a10" stroke-width="1"/>
<line x1="1111.5" y1="170.1" x2="1111.5" y2="202.7" stroke="#6b6b6b" stroke-width="1"/>
<rect x="1108.5" y="172.5" width="6" height="9" fill="#d95541" stroke="#5e1a10" stroke-width="1"/>
<line x1="1120.5" y1="144.7" x2="1120.5" y2="186.4" stroke="#6b6b6b" stroke-width="1"/>
<rect x="1117.5" y="152.5" width="6" height="24" fill="#4caf50" stroke="#1f5a32" stroke-width="1"/>
<line x1="1129.5" y1="124.7" x2="1129.5" y2="149.7" stroke="#6b6b6b" stroke-width="1"/>
<rect x="1126.5" y="138.5" width="6" height="8" fill="#4caf50" stroke="#1f5a32" stroke-width="1"/>
<line x1="1137.5" y1="114.1" x2="1137.5" y2="170.7" stroke="#6b6b6b" stroke-width="1"/>
<rect x="1134.5" y="138.5" width="6" height="31" fill="#d95541" stroke="#5e1a10" stroke-width="1"/>
<line x1="1146.5" y1="150.8" x2="1146.5" y2="177.7" stroke="#6b6b6b" stroke-width="1"/>
<rect x="1143.5" y="160.5" width="6" height="9" fill="#4caf50" stroke="#1f5a32" stroke-width="1"/>
<line x1="1155.5" y1="155.9" x2="1155.5" y2="187.0" stroke="#6b6b6b" stroke-width="1"/>
<rect x="1152.5" y="160.5" width="6" height="9" fill="#d95541" stroke="#5e1a10" stroke-width="1"/>
<line x1="1163.5" y1="141.6" x2="1163.5" y2="196.6" stroke="#6b6b6b" stroke-width="1"/>
<rect x="1160.5" y="173.5" width="6" height="19" fill="#d95541" stroke="#5e1a10" stroke-width="1"/>
<line x1="1172.5" y1="187.0" x2="1172.5" y2="267.0" stroke="#6b6b6b" stroke-width="1"/>
<rect x="1169.5" y="188.5" width="6" height="77" fill="#d95541" stroke="#5e1a10" stroke-width="1"/>
<line x1="1181.5" y1="231.3" x2="1181.5" y2="285.5" stroke="#6b6b6b" stroke-width="1"/>
<rect x="1178.5" y="242.5" width="6" height="31" fill="#4caf50" stroke="#1f5a32" stroke-width="1"/>
<line x1="1189.5" y1="213.4" x2="1189.5" y2="253.7" stroke="#6b6b6b" stroke-width="1"/>
<rect x="1186.5" y="244.5" width="6" height="1" fill="#d95541" stroke="#5e1a10" stroke-width="1"/>
<line x1="1198.5" y1="228.8" x2="1198.5" y2="253.7" stroke="#6b6b6b" stroke-width="1"/>
<rect x="1195.5" y="231.5" width="6" height="16" fill="#4caf50" stroke="#1f5a32" stroke-width="1"/>
<line x1="1207.5" y1="216.2" x2="1207.5" y2="247.0" stroke="#6b6b6b" stroke-width="1"/>
<rect x="1204.5" y="230.5" width="6" height="4" fill="#4caf50" stroke="#1f5a32" stroke-width="1"/>
<line x1="1216.5" y1="196.1" x2="1216.5" y2="238.5" stroke="#6b6b6b" stroke-width="1"/>
<rect x="1213.5" y="199.5" width="6" height="30" fill="#4caf50" stroke="#1f5a32" stroke-width="1"/>
<line x1="1224.5" y1="180.1" x2="1224.5" y2="230.5" stroke="#6b6b6b" stroke-width="1"/>
<rect x="1221.5" y="190.5" width="6" height="10" fill="#4caf50" stroke="#1f5a32" stroke-width="1"/>
<line x1="1233.5" y1="180.1" x2="1233.5" y2="228.8" stroke="#6b6b6b" stroke-width="1"/>
<rect x="1230.5" y="186.5" width="6" height="33" fill="#d95541" stroke="#5e1a10" stroke-width="1"/>
<line x1="1242.5" y1="218.4" x2="1242.5" y2="237.5" stroke="#6b6b6b" stroke-width="1"/>
<rect x="1239.5" y="219.5" width="6" height="16" fill="#d95541" stroke="#5e1a10" stroke-width="1"/>
<line x1="1250.5" y1="230.2" x2="1250.5" y2="260.7" stroke="#6b6b6b" stroke-width="1"/>
<rect x="1247.5" y="232.5" width="6" height="5" fill="#4caf50" stroke="#1f5a32" stroke-width="1"/>
<line x1="1259.5" y1="178.1" x2="1259.5" y2="234.7" stroke="#6b6b6b" stroke-width="1"/>
<rect x="1256.5" y="179.5" width="6" height="48" fill="#4caf50" stroke="#1f5a32" stroke-width="1"/>
<line x1="1268.5" y1="173.1" x2="1268.5" y2="229.7" stroke="#6b6b6b" stroke-width="1"/>
<rect x="1265.5" y="179.5" width="6" height="37" fill="#d95541" stroke="#5e1a10" stroke-width="1"/>
<line x1="1276.5" y1="202.0" x2="1276.5" y2="256.5" stroke="#6b6b6b" stroke-width="1"/>
<rect x="1273.5" y="215.5" width="6" height="15" fill="#d95541" stroke="#5e1a10" stroke-width="1"/>
<line x1="1285.5" y1="217.1" x2="1285.5" y2="289.2" stroke="#6b6b6b" stroke-width="1"/>
<rect x="1282.5" y="236.5" width="6" height="52" fill="#d95541" stroke="#5e1a10" stroke-width="1"/>
<line x1="1294.5" y1="259.9" x2="1294.5" y2="295.1" stroke="#6b6b6b" stroke-width="1"/>
<rect x="1291.5" y="279.5" width="6" height="11" fill="#4caf50" stroke="#1f5a32" stroke-width="1"/>
<line x1="1302.5" y1="249.0" x2="1302.5" y2="280.8" stroke="#6b6b6b" stroke-width="1"/>
<rect x="1299.5" y="264.5" width="6" height="15" fill="#4caf50" stroke="#1f5a32" stroke-width="1"/>
<line x1="1311.5" y1="256.0" x2="1311.5" y2="288.4" stroke="#6b6b6b" stroke-width="1"/>
<rect x="1308.5" y="269.5" width="6" height="12" fill="#d95541" stroke="#5e1a10" stroke-width="1"/>
<line x1="1320.5" y1="198.3" x2="1320.5" y2="293.4" stroke="#6b6b6b" stroke-width="1"/>
<rect x="1317.5" y="200.5" width="6" height="82" fill="#4caf50" stroke="#1f5a32" stroke-width="1"/>
<line x1="1329.5" y1="155.0" x2="1329.5" y2="190.4" stroke="#6b6b6b" stroke-width="1"/>
<rect x="1326.5" y="183.5" width="6" height="5" fill="#4caf50" stroke="#1f5a32" stroke-width="1"/>
<line x1="1337.5" y1="148.2" x2="1337.5" y2="184.6" stroke="#6b6b6b" stroke-width="1"/>
<rect x="1334.5" y="167.5" width="6" height="12" fill="#4caf50" stroke="#1f5a32" stroke-width="1"/>
<line x1="1346.5" y1="161.0" x2="1346.5" y2="247.3" stroke="#6b6b6b" stroke-width="1"/>
<rect x="1343.5" y="167.5" width="6" height="68" fill="#d95541" stroke="#5e1a10" stroke-width="1"/>
<line x1="972.5" y1="3" x2="972.5" y2="804" stroke="#9598a1" stroke-width="1" stroke-dasharray="5 6"/>
<polyline points="0.0,672.5 25.0,677.5 49.9,684.5 58.7,673.2 84.9,675.0 112.4,676.5 119.9,679.0 137.3,683.2 154.8,682.5 164.8,680.2 184.8,680.0 198.5,683.2 207.2,680.0 216.0,678.2 224.7,680.7 232.2,681.0 239.7,677.0 249.7,671.5 259.7,670.0 269.7,673.2 274.6,674.0 284.6,676.5 294.6,676.5 312.1,680.7 327.1,679.7 337.1,682.0 347.1,679.5 357.0,679.5 364.5,681.5 375.0,676.2 388.7,677.7 398.7,681.0 408.7,681.2 424.9,685.0 433.7,682.0 449.9,685.2 467.4,691.5 484.9,686.2 502.3,686.2 519.8,690.5 537.3,685.2 547.3,679.7 554.8,679.7 564.8,681.5 572.3,685.2 582.2,687.0 597.2,691.2 607.2,683.5 617.2,686.2 632.2,687.0 642.2,690.7 649.7,690.0 659.7,693.0 668.4,689.5 694.6,697.0 712.1,697.7 719.6,698.2 729.6,701.5 737.0,702.7 750.0,699.5 762.5,698.5 772.5,700.5 782.5,701.2 790.0,702.5 797.4,700.5 807.4,704.0 814.9,705.7 823.7,705.4 832.4,701.5 842.4,696.5 849.9,695.5 859.9,697.5 869.9,700.2 876.1,702.7 884.8,703.2 894.8,700.7 902.3,701.5 911.0,700.2 919.8,701.5 929.8,701.0 946.0,704.4 954.8,694.5 962.2,695.0 972.2,691.2 987.2,693.5 999.7,693.5 1009.7,694.5 1017.2,694.5 1024.7,695.7 1032.2,694.5 1042.1,696.5 1049.6,696.2 1059.6,693.0 1074.6,690.7 1084.6,685.2 1094.6,684.7 1102.1,682.5 1112.0,685.2 1120.0,687.0 1128.7,690.0 1137.5,690.0 1154.9,695.0 1162.4,695.0 1172.4,692.0 1179.9,692.0 1189.9,693.7 1199.9,697.0 1209.9,699.5 1217.4,700.0 1232.3,700.0 1242.3,703.7 1249.8,705.4 1262.3,703.7 1274.8,702.0 1284.8,699.5 1299.8,702.7 1311.0,704.9 1319.7,699.0 1336.0,701.2 1346.0,696.5" fill="none" stroke="#c2393f" stroke-width="1.05" stroke-linejoin="round" stroke-linecap="round"/>
<rect x="0" y="668" width="120" height="25" fill="#ffffff" fill-opacity="0.55"/>
<polyline points="0.0,792.4 7.5,792.4 13.7,782.4 23.7,771.9 32.5,766.2 41.2,761.9 51.2,764.4 58.7,789.9 67.4,790.4 76.2,783.7 86.1,782.4 93.6,783.9 102.4,779.9 111.1,771.9 121.1,771.2 136.1,771.9 146.1,774.9 154.8,774.4 163.5,767.4 172.3,764.9 181.0,761.9 189.8,757.4 198.5,751.9 207.2,757.4 216.0,751.2 224.7,741.7 233.5,749.9 242.2,768.7 250.9,796.1 258.4,784.9 268.4,776.7 277.2,778.2 284.6,772.9 293.4,776.9 303.4,778.2 312.1,776.9 320.9,779.2 329.6,776.2 338.3,771.2 347.1,761.9 355.8,755.4 364.5,754.9 373.3,751.9 380.5,754.2 390.0,749.9 398.7,746.9 407.5,745.2 416.2,744.9 424.9,742.0 433.2,725.7 441.9,722.5 449.9,726.7 458.6,730.7 467.4,734.2 476.1,732.5 484.9,740.0 494.9,737.0 502.3,738.2 511.1,737.5 519.8,741.7 528.6,743.7 537.3,746.7 546.0,738.2 554.8,719.5 563.5,722.0 572.3,730.5 581.0,728.7 589.7,734.2 598.5,737.5 607.2,728.7 615.9,726.2 624.7,738.2 632.2,740.0 640.9,745.0 649.7,749.9 658.4,751.9 668.4,761.2 677.1,757.4 685.9,762.4 694.6,765.7 703.4,758.7 710.8,761.7 719.6,761.7 728.3,770.4 737.0,773.7 745.8,784.4 750.0,789.9 755.0,797.9 762.5,798.4 772.5,785.4 781.2,777.9 790.0,776.7 798.7,765.7 807.4,758.7 816.2,754.9 823.7,745.7 832.4,750.0 842.4,746.2 849.9,730.7 858.6,732.5 868.6,736.2 876.1,734.5 884.8,730.7 893.6,727.5 902.3,729.5 911.0,740.0 919.8,746.2 928.5,743.0 937.3,747.0 946.0,751.2 954.8,734.2 963.5,723.0 972.2,714.5 981.0,715.7 989.7,719.5 998.4,728.7 1007.2,732.5 1015.9,735.0 1024.7,737.0 1033.4,743.0 1040.9,745.0 1049.6,747.0 1059.6,744.5 1068.4,747.4 1075.8,742.5 1084.6,747.0 1093.3,754.4 1102.3,769.3 1111.2,771.2 1120.0,769.4 1127.5,763.7 1137.5,769.4 1146.2,771.2 1162.4,771.2 1172.4,786.1 1181.1,784.9 1189.9,777.4 1198.6,774.9 1206.1,771.9 1214.9,764.9 1223.6,761.2 1232.3,762.4 1241.1,766.9 1249.8,769.4 1259.8,753.2 1267.3,755.7 1277.3,764.9 1284.8,776.2 1294.8,777.9 1302.2,771.2 1312.2,774.9 1319.7,753.7 1328.5,726.2 1337.2,723.0 1345.9,747.4" fill="none" stroke="#2f6bf0" stroke-width="1.05" stroke-linejoin="round" stroke-linecap="round"/>
<rect x="1438" y="3" width="61" height="801" fill="#fff"/>
<line x1="1437.5" y1="3" x2="1437.5" y2="834" stroke="#4a4a4a" stroke-width="1"/>
<line x1="0" y1="804.5" x2="1499" y2="804.5" stroke="#4a4a4a" stroke-width="1"/>
<line x1="1437" y1="667.5" x2="1499" y2="667.5" stroke="#e0e3eb" stroke-width="1"/>
<line x1="1437" y1="709.5" x2="1499" y2="709.5" stroke="#e0e3eb" stroke-width="1"/>
<text x="1446.8" y="48.9" font-size="12" fill="#4f525c" font-weight="normal" text-anchor="start" textLength="41" lengthAdjust="spacingAndGlyphs">106.500</text>
<text x="1446.8" y="99.15" font-size="12" fill="#4f525c" font-weight="normal" text-anchor="start" textLength="41" lengthAdjust="spacingAndGlyphs">106.000</text>
<text x="1446.8" y="249.9" font-size="12" fill="#4f525c" font-weight="normal" text-anchor="start" textLength="41" lengthAdjust="spacingAndGlyphs">104.500</text>
<text x="1446.8" y="300.15" font-size="12" fill="#4f525c" font-weight="normal" text-anchor="start" textLength="41" lengthAdjust="spacingAndGlyphs">104.000</text>
<text x="1446.8" y="350.4" font-size="12" fill="#4f525c" font-weight="normal" text-anchor="start" textLength="41" lengthAdjust="spacingAndGlyphs">103.500</text>
<text x="1446.8" y="400.65" font-size="12" fill="#4f525c" font-weight="normal" text-anchor="start" textLength="41" lengthAdjust="spacingAndGlyphs">103.000</text>
<text x="1446.8" y="450.9" font-size="12" fill="#4f525c" font-weight="normal" text-anchor="start" textLength="41" lengthAdjust="spacingAndGlyphs">102.500</text>
<text x="1446.8" y="501.15" font-size="12" fill="#4f525c" font-weight="normal" text-anchor="start" textLength="41" lengthAdjust="spacingAndGlyphs">102.000</text>
<text x="1446.8" y="551.4" font-size="12" fill="#4f525c" font-weight="normal" text-anchor="start" textLength="41" lengthAdjust="spacingAndGlyphs">101.500</text>
<text x="1446.8" y="601.65" font-size="12" fill="#4f525c" font-weight="normal" text-anchor="start" textLength="41" lengthAdjust="spacingAndGlyphs">101.000</text>
<text x="1446.8" y="651.9" font-size="12" fill="#4f525c" font-weight="normal" text-anchor="start" textLength="41" lengthAdjust="spacingAndGlyphs">100.500</text>
<path d="M1437.5,137 H1491.5 Q1493.5,137 1493.5,139 V156 Q1493.5,158 1491.5,158 H1437.5 Z" fill="#131722"/>
<text x="1446.3" y="151.7" font-size="12" fill="#ffffff" font-weight="bold" text-anchor="start" textLength="41.7" lengthAdjust="spacingAndGlyphs">105.478</text>
<path d="M1437.5,184.5 H1491.5 Q1493.5,184.5 1493.5,186.5 V199.5 Q1493.5,201.5 1491.5,201.5 H1437.5 Z" fill="#000000"/>
<text x="1446.3" y="197.2" font-size="12" fill="#ffffff" font-weight="bold" text-anchor="start" textLength="41.7" lengthAdjust="spacingAndGlyphs">105.020</text>
<path d="M1437.5,456 H1491.5 Q1493.5,456 1493.5,458 V471 Q1493.5,473 1491.5,473 H1437.5 Z" fill="#000000"/>
<text x="1446.3" y="468.7" font-size="12" fill="#ffffff" font-weight="bold" text-anchor="start" textLength="41.7" lengthAdjust="spacingAndGlyphs">102.321</text>
<path d="M1437.5,624 H1491.5 Q1493.5,624 1493.5,626 V639 Q1493.5,641 1491.5,641 H1437.5 Z" fill="#000000"/>
<text x="1446.3" y="636.7" font-size="12" fill="#ffffff" font-weight="bold" text-anchor="start" textLength="41.7" lengthAdjust="spacingAndGlyphs">100.645</text>
<line x1="1432" y1="193.0" x2="1437" y2="193.0" stroke="#000" stroke-width="2"/>
<line x1="1432" y1="465.0" x2="1437" y2="465.0" stroke="#000" stroke-width="2"/>
<line x1="1432" y1="633.0" x2="1437" y2="633.0" stroke="#000" stroke-width="2"/>
<text x="1446.8" y="703.7" font-size="12" fill="#4f525c" font-weight="normal" text-anchor="start" textLength="29" lengthAdjust="spacingAndGlyphs">0.500</text>
<text x="1446.8" y="723" font-size="12" fill="#4f525c" font-weight="normal" text-anchor="start" textLength="35" lengthAdjust="spacingAndGlyphs">200.00</text>
<text x="1446.8" y="758.5" font-size="12" fill="#4f525c" font-weight="normal" text-anchor="start" textLength="23" lengthAdjust="spacingAndGlyphs">0.00</text>
<text x="1446.8" y="793.8" font-size="12" fill="#4f525c" font-weight="normal" text-anchor="start" textLength="40" lengthAdjust="spacingAndGlyphs">-200.00</text>
<text x="68.3" y="822" font-size="12" fill="#4f525c" font-weight="normal" text-anchor="middle">15</text>
<text x="172.6" y="822" font-size="12" fill="#4f525c" font-weight="normal" text-anchor="middle">Dec</text>
<text x="259.6" y="822" font-size="12" fill="#4f525c" font-weight="normal" text-anchor="middle">15</text>
<text x="346.5" y="822" font-size="12" fill="#4f525c" font-weight="bold" text-anchor="middle">2024</text>
<text x="433.5" y="822" font-size="12" fill="#4f525c" font-weight="normal" text-anchor="middle">16</text>
<text x="537.8" y="822" font-size="12" fill="#4f525c" font-weight="normal" text-anchor="middle">Feb</text>
<text x="624.7" y="822" font-size="12" fill="#4f525c" font-weight="normal" text-anchor="middle">15</text>
<text x="720.4" y="822" font-size="12" fill="#4f525c" font-weight="normal" text-anchor="middle">Mar</text>
<text x="807.3" y="822" font-size="12" fill="#4f525c" font-weight="normal" text-anchor="middle">15</text>
<text x="894.3" y="822" font-size="12" fill="#4f525c" font-weight="normal" text-anchor="middle">Apr</text>
<text x="1085.6" y="822" font-size="12" fill="#4f525c" font-weight="normal" text-anchor="middle">May</text>
<text x="1198.6" y="822" font-size="12" fill="#4f525c" font-weight="normal" text-anchor="middle">20</text>
<text x="1285.6" y="822" font-size="12" fill="#4f525c" font-weight="normal" text-anchor="middle">Jun</text>
<text x="1372.5" y="822" font-size="12" fill="#4f525c" font-weight="normal" text-anchor="middle">17</text>
<path d="M928,804.5 H1017 V825.5 Q1017,827.5 1015,827.5 H930 Q928,827.5 928,825.5 Z" fill="#131722"/>
<text x="936.4" y="821" font-size="12" fill="#ffffff" font-weight="bold" text-anchor="start" textLength="71" lengthAdjust="spacingAndGlyphs">Fri 12 Apr ’24</text>
<defs><filter id="sh" x="-20%" y="-20%" width="140%" height="140%"><feDropShadow dx="-1.8" dy="2" stdDeviation="1" flood-color="#333333" flood-opacity="0.8"/></filter><filter id="sh2" x="-20%" y="-20%" width="140%" height="140%"><feDropShadow dx="-1.2" dy="1.2" stdDeviation="0.6" flood-color="#3060c0" flood-opacity="0.6"/></filter></defs>
<g filter="url(#sh)" opacity="0.72">
<polyline points="1279,741 1278,750" fill="none" stroke="#ffffff" stroke-width="6.5" stroke-linejoin="miter" stroke-linecap="square"/>
<polyline points="1268,751 1321,748" fill="none" stroke="#ffffff" stroke-width="6.5" stroke-linejoin="miter" stroke-linecap="square"/>
<polyline points="1321,748 1311,790 1305,795 1270,795" fill="none" stroke="#ffffff" stroke-width="6.5" stroke-linejoin="miter" stroke-linecap="square"/>
<polyline points="1262,776 1275,775 1267,794 1257,795" fill="none" stroke="#ffffff" stroke-width="6.5" stroke-linejoin="miter" stroke-linecap="square"/>
<polyline points="1288,760 1306,760 1303,770 1285,770 1288,760" fill="none" stroke="#ffffff" stroke-width="6.5" stroke-linejoin="miter" stroke-linecap="square"/>
<polyline points="1284,778 1300,778 1296,788 1281,788 1284,778" fill="none" stroke="#ffffff" stroke-width="6.5" stroke-linejoin="miter" stroke-linecap="square"/>
<polyline points="1274,758 1272,768" fill="none" stroke="#ffffff" stroke-width="6.5" stroke-linejoin="miter" stroke-linecap="square"/>
<polyline points="1330,747 1368,747" fill="none" stroke="#ffffff" stroke-width="6.5" stroke-linejoin="miter" stroke-linecap="square"/>
<polyline points="1336,748 1333,765" fill="none" stroke="#ffffff" stroke-width="6.5" stroke-linejoin="miter" stroke-linecap="square"/>
<polyline points="1322,768 1364,768" fill="none" stroke="#ffffff" stroke-width="6.5" stroke-linejoin="miter" stroke-linecap="square"/>
<polyline points="1368,747 1364,768" fill="none" stroke="#ffffff" stroke-width="6.5" stroke-linejoin="miter" stroke-linecap="square"/>
<polyline points="1320,784 1360,784" fill="none" stroke="#ffffff" stroke-width="6.5" stroke-linejoin="miter" stroke-linecap="square"/>
<polyline points="1360,784 1356,794 1342,795" fill="none" stroke="#ffffff" stroke-width="6.5" stroke-linejoin="miter" stroke-linecap="square"/>
<polyline points="1380,744 1370,794" fill="none" stroke="#ffffff" stroke-width="6.5" stroke-linejoin="miter" stroke-linecap="square"/>
<polyline points="1380,745 1400,745 1390,787" fill="none" stroke="#ffffff" stroke-width="6.5" stroke-linejoin="miter" stroke-linecap="square"/>
<polyline points="1377,760 1396,760" fill="none" stroke="#ffffff" stroke-width="6.5" stroke-linejoin="miter" stroke-linecap="square"/>
<polyline points="1374,787 1366,796" fill="none" stroke="#ffffff" stroke-width="6.5" stroke-linejoin="miter" stroke-linecap="square"/>
<polyline points="1387,786 1394,796" fill="none" stroke="#ffffff" stroke-width="6.5" stroke-linejoin="miter" stroke-linecap="square"/>
<polyline points="1403,756 1437,756" fill="none" stroke="#ffffff" stroke-width="6.5" stroke-linejoin="miter" stroke-linecap="square"/>
<polyline points="1428,742 1417,790 1412,795 1406,795" fill="none" stroke="#ffffff" stroke-width="6.5" stroke-linejoin="miter" stroke-linecap="square"/>
<polyline points="1420,764 1402,788" fill="none" stroke="#ffffff" stroke-width="6.5" stroke-linejoin="miter" stroke-linecap="square"/>
<polyline points="1452,744 1444,758 1455,758 1442,772 1456,770" fill="none" stroke="#ffffff" stroke-width="6.5" stroke-linejoin="miter" stroke-linecap="square"/>
<polyline points="1440,790 1456,786" fill="none" stroke="#ffffff" stroke-width="6.5" stroke-linejoin="miter" stroke-linecap="square"/>
<polyline points="1461,749 1492,749 1470,766" fill="none" stroke="#ffffff" stroke-width="6.5" stroke-linejoin="miter" stroke-linecap="square"/>
<polyline points="1468,752 1492,766" fill="none" stroke="#ffffff" stroke-width="6.5" stroke-linejoin="miter" stroke-linecap="square"/>
<polyline points="1459,775 1492,775" fill="none" stroke="#ffffff" stroke-width="6.5" stroke-linejoin="miter" stroke-linecap="square"/>
<polyline points="1477,767 1473,791" fill="none" stroke="#ffffff" stroke-width="6.5" stroke-linejoin="miter" stroke-linecap="square"/>
<polyline points="1452,792 1492,792" fill="none" stroke="#ffffff" stroke-width="6.5" stroke-linejoin="miter" stroke-linecap="square"/>
</g>
<g filter="url(#sh2)" opacity="0.88">
<text x="1268" y="829" font-size="32" font-weight="bold" font-style="italic" fill="#8ec8fc" stroke="#8ec8fc" stroke-width="1.6">z</text>
<text x="1294.6" y="829" font-size="32" font-weight="bold" font-style="italic" fill="#8ec8fc" stroke="#8ec8fc" stroke-width="1.6">z</text>
<text x="1322.8" y="829" font-size="32" font-weight="bold" font-style="italic" fill="#8ec8fc" stroke="#8ec8fc" stroke-width="1.6">r</text>
<text x="1347" y="829" font-size="32" font-weight="bold" font-style="italic" fill="#8ec8fc" stroke="#8ec8fc" stroke-width="1.6">t</text>
<text x="1366.3" y="829" font-size="32" font-weight="bold" font-style="italic" fill="#8ec8fc" stroke="#8ec8fc" stroke-width="1.6">0</text>
<text x="1400" y="829" font-size="32" font-weight="bold" font-style="italic" fill="#8ec8fc" stroke="#8ec8fc" stroke-width="1.6">1</text>
<text x="1425" y="829" font-size="32" font-weight="bold" font-style="italic" fill="#8ec8fc" stroke="#8ec8fc" stroke-width="1.6">.</text>
<text x="1444.5" y="829" font-size="32" font-weight="bold" font-style="italic" fill="#8ec8fc" stroke="#8ec8fc" stroke-width="1.6">c</text>
<text x="1471" y="829" font-size="32" font-weight="bold" font-style="italic" fill="#8ec8fc" stroke="#8ec8fc" stroke-width="1.6">n</text>
</g>
<rect x="0" y="0" width="1502" height="3" fill="#e0e3eb"/>
<rect x="1499" y="0" width="3" height="834" fill="#e0e3eb"/>
<rect x="0" y="832" width="1502" height="1" fill="#e0e3eb"/>
<circle cx="17.9" cy="19.2" r="9" fill="#10816a"/>
<text x="17.9" y="24.6" font-size="14" fill="#ffffff" font-weight="bold" text-anchor="middle">$</text>
<text x="31.2" y="25" font-size="15.5" fill="#363a45" font-weight="normal" text-anchor="start" textLength="249.5" lengthAdjust="spacingAndGlyphs">US Dollar Index · 1D · PEPPERSTONE</text>
<circle cx="304.8" cy="18.8" r="9.3" fill="#d9f0ea"/>
<circle cx="304.8" cy="18.8" r="3.8" fill="#089981"/>
<text x="330.1" y="24" font-size="13" fill="#50535e" font-weight="normal" text-anchor="start" textLength="7.9" lengthAdjust="spacingAndGlyphs">O</text>
<text x="339.9" y="24" font-size="13" fill="#1d7554" font-weight="normal" text-anchor="start" textLength="45.3" lengthAdjust="spacingAndGlyphs">105.330</text>
<text x="391.9" y="24" font-size="13" fill="#50535e" font-weight="normal" text-anchor="start" textLength="7.9" lengthAdjust="spacingAndGlyphs">H</text>
<text x="401.2" y="24" font-size="13" fill="#1d7554" font-weight="normal" text-anchor="start" textLength="45.2" lengthAdjust="spacingAndGlyphs">106.170</text>
<text x="453.1" y="24" font-size="13" fill="#50535e" font-weight="normal" text-anchor="start" textLength="6.7" lengthAdjust="spacingAndGlyphs">L</text>
<text x="461.1" y="24" font-size="13" fill="#1d7554" font-weight="normal" text-anchor="start" textLength="45.3" lengthAdjust="spacingAndGlyphs">105.290</text>
<text x="512.2" y="24" font-size="13" fill="#50535e" font-weight="normal" text-anchor="start" textLength="7.5" lengthAdjust="spacingAndGlyphs">C</text>
<text x="521" y="24" font-size="13" fill="#1d7554" font-weight="normal" text-anchor="start" textLength="45.3" lengthAdjust="spacingAndGlyphs">106.075</text>
<text x="572.9" y="24" font-size="13" fill="#1d7554" font-weight="normal" text-anchor="start" textLength="37.3" lengthAdjust="spacingAndGlyphs">+0.731</text>
<text x="616.1" y="24" font-size="13" fill="#1d7554" font-weight="normal" text-anchor="start" textLength="48.7" lengthAdjust="spacingAndGlyphs">(+0.69%)</text>
<rect x="8.5" y="35.5" width="61" height="23" rx="4" fill="#fff" stroke="#f23645" stroke-width="1"/>
<text x="17" y="51.5" font-size="13" fill="#f23645" font-weight="normal" text-anchor="start" textLength="44" lengthAdjust="spacingAndGlyphs">104.600</text>
<text x="78" y="51" font-size="11" fill="#131722" font-weight="normal" text-anchor="start" textLength="26.6" lengthAdjust="spacingAndGlyphs">0.054</text>
<rect x="113.5" y="35.5" width="61" height="23" rx="4" fill="#fff" stroke="#2962ff" stroke-width="1"/>
<text x="122" y="51.5" font-size="13" fill="#2962ff" font-weight="normal" text-anchor="start" textLength="44" lengthAdjust="spacingAndGlyphs">104.654</text>
<text x="9" y="79" font-size="13" fill="#4f525c" font-weight="normal" text-anchor="start" textLength="382.7" lengthAdjust="spacingAndGlyphs">MA Ribbon SMA close 20 SMA close 50 SMA close 100 SMA close 200</text>
<text x="400.7" y="79" font-size="13" fill="#f23645" font-weight="normal" text-anchor="start" textLength="45" lengthAdjust="spacingAndGlyphs">104.404</text>
<text x="452.9" y="79" font-size="13" fill="#2962ff" font-weight="normal" text-anchor="start" textLength="44" lengthAdjust="spacingAndGlyphs">104.085</text>
<text x="504.5" y="79" font-size="10" fill="#131722" font-weight="normal" text-anchor="start" textLength="7" lengthAdjust="spacingAndGlyphs">∅</text>
<text x="518.5" y="79" font-size="13" fill="#131722" font-weight="normal" text-anchor="start" textLength="44.4" lengthAdjust="spacingAndGlyphs">103.863</text>
<rect x="9.5" y="89.5" width="28" height="19" rx="4" fill="#fff" fill-opacity="0.8" stroke="#d6d8e0" stroke-width="1"/>
<path d="M19,101 L23.5,96.5 L28,101" fill="none" stroke="#131722" stroke-width="1.3"/>
<text x="9.2" y="689" font-size="13" fill="#4f525c" font-weight="normal" text-anchor="start" textLength="66.5" lengthAdjust="spacingAndGlyphs">ATR 14 RMA</text>
<text x="84.9" y="689" font-size="13" fill="#c2393f" font-weight="normal" text-anchor="start" textLength="31.2" lengthAdjust="spacingAndGlyphs">0.550</text>
<text x="9.2" y="731.2" font-size="13" fill="#4f525c" font-weight="normal" text-anchor="start" textLength="100.6" lengthAdjust="spacingAndGlyphs">CCI 20 hlc3 SMA 5</text>
<text x="119.9" y="731.2" font-size="13" fill="#2962ff" font-weight="normal" text-anchor="start" textLength="37" lengthAdjust="spacingAndGlyphs">224.31</text>
<rect x="1353.5" y="7.5" width="23" height="23" rx="4" fill="#fff" stroke="#e0e3eb" stroke-width="1"/>
<rect x="1381.5" y="7.5" width="23" height="23" rx="4" fill="#fff" stroke="#e0e3eb" stroke-width="1"/>
<rect x="1409.5" y="7.5" width="23" height="23" rx="4" fill="#fff" stroke="#e0e3eb" stroke-width="1"/>
<path d="M1365.5,15 V24 M1361.5,20 L1365.5,24 L1369.5,20" fill="none" stroke="#4f525c" stroke-width="1"/>
<path d="M1390,13.5 L1393.5,17 L1397,13.5 M1390,25 L1393.5,21.5 L1397,25" fill="none" stroke="#4f525c" stroke-width="1"/>
<rect x="1416.5" y="14.5" width="10" height="10" rx="2.5" fill="none" stroke="#4f525c" stroke-width="1"/>
<rect x="1441.5" y="7.5" width="53" height="25" rx="4" fill="#fff" stroke="#e0e3eb" stroke-width="1"/>
<text x="1445" y="24.5" font-size="13" fill="#131722" font-weight="normal" text-anchor="start" textLength="20" lengthAdjust="spacingAndGlyphs">USD</text>
<path d="M1484.5,19 L1487.3,21.8 L1490.1,19" fill="none" stroke="#131722" stroke-width="1.2"/>
<path d="M10,773 H26 V791.5 H10 Z M27,773 H44 V791.5 H27 Z" fill="#ffffff"/>
<path d="M12,775 H23.7 V789.7 H18 V781 H12 Z" fill="#131722"/>
<circle cx="29" cy="778" r="2.8" fill="#131722"/>
<path d="M35.3,775 H41.7 L35.7,789.7 H29.3 Z" fill="#131722"/>
<text x="1285.6" y="822" font-size="12" fill="#4f525c" font-weight="normal" text-anchor="middle">Jun</text>
<text x="1372.5" y="822" font-size="12" fill="#4f525c" font-weight="normal" text-anchor="middle">17</text>
<path d="M1461.5,818 L1465,812 H1472 L1475.5,818 L1472,824 H1465 Z" fill="#fff" stroke="#131722" stroke-width="1.2"/>
<circle cx="1468.5" cy="818" r="2.2" fill="none" stroke="#131722" stroke-width="1.2"/>
</svg></body></html>
